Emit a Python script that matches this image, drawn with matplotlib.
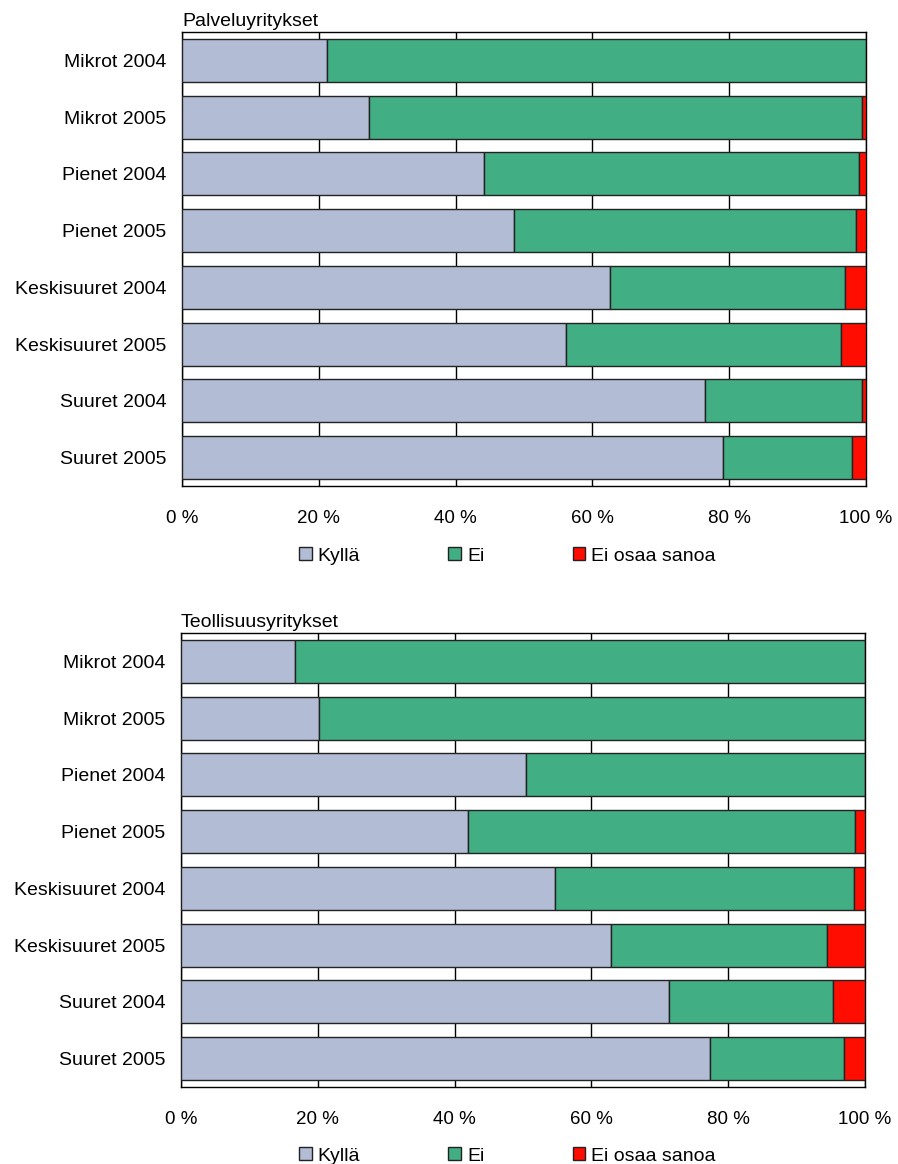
import matplotlib.pyplot as plt
from matplotlib.patches import Patch

plt.rcParams['font.family'] = ['Liberation Sans', 'DejaVu Sans']

categories = [
    "Mikrot 2004", "Mikrot 2005", "Pienet 2004", "Pienet 2005",
    "Keskisuuret 2004", "Keskisuuret 2005", "Suuret 2004", "Suuret 2005",
]
series_names = ["Kyllä", "Ei", "Ei osaa sanoa"]

# Palveluyritykset, % of respondents
palvelu_kylla = [21.2, 27.3, 44.2, 48.5, 62.6, 56.2, 76.4, 79.1]
palvelu_ei = [78.8, 72.1, 54.8, 50.0, 34.4, 40.1, 23.0, 18.9]
palvelu_eos = [0.0, 0.6, 1.0, 1.5, 3.0, 3.7, 0.6, 2.0]

# Teollisuusyritykset, % of respondents
teollisuus_kylla = [16.6, 20.2, 50.5, 42.0, 54.7, 62.9, 71.3, 77.3]
teollisuus_ei = [83.4, 79.8, 49.5, 56.5, 43.7, 31.5, 24.0, 19.6]
teollisuus_eos = [0.0, 0.0, 0.0, 1.5, 1.6, 5.6, 4.7, 3.1]

colors = ['#b2bcd5', '#41ae84', '#ff0d00']
x_ticks = [0, 20, 40, 60, 80, 100]
x_labels = [f"{t} %" for t in x_ticks]

W, H = 898, 1164
fig = plt.figure(figsize=(W / 100, H / 100), dpi=100)


def draw_panel(left, top, title, kylla, ei, eos, legend_y):
    ax = fig.add_axes([left / W, 1 - (top + 454) / H, 684 / W, 454 / H])
    y = range(len(categories))
    lefts = [0] * len(categories)
    for vals, col in zip([kylla, ei, eos], colors):
        ax.barh(y, vals, left=lefts, height=0.76, color=col,
                edgecolor='#222222', linewidth=1.0, zorder=3)
        lefts = [a + b for a, b in zip(lefts, vals)]

    ax.set_xlim(0, 100)
    ax.set_ylim(len(categories) - 0.5, -0.5)
    ax.set_xticks(x_ticks)
    ax.set_xticklabels(x_labels, fontsize=13.5)
    ax.set_yticks(list(y))
    ax.set_yticklabels(categories, fontsize=14)
    ax.tick_params(axis='x', length=0, pad=17.5)
    ax.tick_params(axis='y', length=0, pad=11)
    ax.grid(axis='x', color='black', linewidth=1.0, zorder=0)
    ax.set_axisbelow(True)
    for s in ax.spines.values():
        s.set_color('black')
        s.set_linewidth(1.0)
    ax.set_title(title, loc='left', fontsize=14, pad=4.5)

    handles = [Patch(facecolor=c, edgecolor='#222222', linewidth=1.0) for c in colors]
    fig.legend(handles, series_names, loc='center left',
               bbox_to_anchor=(299 / W, 1 - legend_y / H), ncol=3,
               frameon=False, fontsize=14, handlelength=0.65, handleheight=0.65,
               handletextpad=0.3, columnspacing=4.55, borderpad=0, borderaxespad=0)
    return ax


draw_panel(182, 32, "Palveluyritykset", palvelu_kylla, palvelu_ei, palvelu_eos, 556)
draw_panel(181, 633, "Teollisuusyritykset", teollisuus_kylla, teollisuus_ei, teollisuus_eos, 1156)

fig.savefig("out.png", dpi=100)
